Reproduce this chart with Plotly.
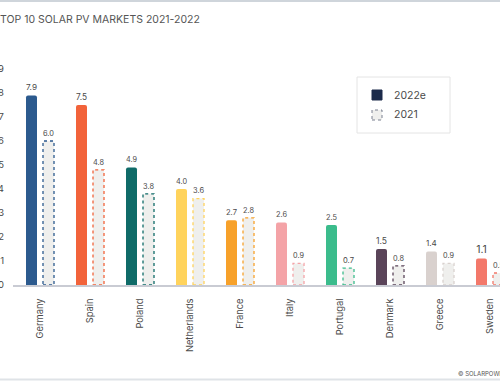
import plotly.graph_objects as go

categories = ["Germany", "Spain", "Poland", "Netherlands", "France", "Italy",
              "Portugal", "Denmark", "Greece", "Sweden"]
values_2022e = [7.9, 7.5, 4.9, 4.0, 2.7, 2.6, 2.5, 1.5, 1.4, 1.1]
values_2021 = [6.0, 4.8, 3.8, 3.6, 2.8, 0.9, 0.7, 0.8, 0.9, 0.5]
colors = ["#2c5a8e", "#f2633a", "#0f6b68", "#ffd35c", "#f7a12a", "#f4a3a7",
          "#3bbc8c", "#5a4459", "#d9d1ce", "#f3786a"]
y_ticks = list(range(0, 10))

FONT = "Inter"
TXT = "#4a4a4a"
FILL21 = "#efefed"

W_FIG, H_FIG = 500, 383
L, R, T, B = 13, 0, 69, 98
PW = W_FIG - L - R
PH = H_FIG - T - B


def px(q):
    return (q - L) / PW


def py(p):
    return (H_FIG - B - p) / PH


BW = 0.22
OFF1 = -0.28
OFF2 = 0.06

fig = go.Figure()
fig.add_trace(go.Bar(
    x=categories, y=values_2022e, name="2022e",
    marker=dict(color=colors, line=dict(width=0), cornerradius=2),
    offset=OFF1, width=BW,
    text=[f"{v:.1f}" for v in values_2022e], textposition="outside",
    textfont=dict(family=FONT, size=10.5, color=TXT), cliponaxis=False,
    showlegend=False,
))
fig.add_trace(go.Bar(
    x=categories, y=values_2021, name="2021",
    marker=dict(color=FILL21, line=dict(width=0), cornerradius=2),
    offset=OFF2, width=BW,
    text=[f"{v:.1f}" for v in values_2021], textposition="outside",
    textfont=dict(family=FONT, size=10.5, color=TXT), cliponaxis=False,
    showlegend=False,
))

shapes = []
for i, (v, c) in enumerate(zip(values_2021, colors)):
    shapes.append(dict(type="rect", xref="x", yref="y",
                       x0=i + OFF2, x1=i + OFF2 + BW, y0=0, y1=v,
                       line=dict(color=c, width=1.3, dash="dot"),
                       fillcolor="rgba(0,0,0,0)", layer="above"))

# frame lines
shapes.append(dict(type="line", xref="paper", yref="paper",
                   x0=px(0), x1=px(500), y0=py(1), y1=py(1),
                   line=dict(color="#cfd5db", width=2)))
shapes.append(dict(type="line", xref="paper", yref="paper",
                   x0=px(0), x1=px(500), y0=py(379.5), y1=py(379.5),
                   line=dict(color="#dfe3e7", width=2)))
# legend box
shapes.append(dict(type="rect", xref="paper", yref="paper",
                   x0=px(357), x1=px(450), y0=py(133), y1=py(77),
                   line=dict(color="#e4e4e4", width=1), fillcolor="white"))
shapes.append(dict(type="rect", xref="paper", yref="paper",
                   x0=px(372), x1=px(382), y0=py(100), y1=py(90),
                   line=dict(color="#1c2b4b", width=1), fillcolor="#1c2b4b"))
shapes.append(dict(type="rect", xref="paper", yref="paper",
                   x0=px(372), x1=px(382), y0=py(120), y1=py(110),
                   line=dict(color="#7a8090", width=1, dash="dot"), fillcolor=FILL21))

annotations = [
    dict(xref="paper", yref="paper", x=px(392), y=py(95), xanchor="left", yanchor="middle",
         text="2022e", showarrow=False, font=dict(family=FONT, size=10.5, color=TXT)),
    dict(xref="paper", yref="paper", x=px(392), y=py(115), xanchor="left", yanchor="middle",
         text="2021", showarrow=False, font=dict(family=FONT, size=10.5, color=TXT)),
    dict(xref="paper", yref="paper", x=px(456), y=py(373), xanchor="left", yanchor="middle",
         text="© SOLARPOWER EUROPE", showarrow=False,
         font=dict(family=FONT, size=6, color="#555555")),
]

fig.update_layout(
    width=W_FIG, height=H_FIG,
    margin=dict(l=L, r=R, t=T, b=B, autoexpand=False),
    paper_bgcolor="white", plot_bgcolor="white",
    barmode="overlay",
    title=dict(text="TOP 10 SOLAR PV MARKETS 2021-2022", x=0, xref="container",
               xanchor="left", y=1 - 19 / H_FIG, yref="container", yanchor="middle",
               font=dict(family=FONT, size=10.5, color="#555555")),
    xaxis=dict(range=[-0.54, 9.2], tickangle=-90, showgrid=False, zeroline=False,
               showline=True, linecolor="#c9cbd3", linewidth=1.5,
               ticks="", ticklabelstandoff=8, automargin=False,
               tickfont=dict(family=FONT, size=9.3, color=TXT), fixedrange=True),
    yaxis=dict(range=[0, 9], tickvals=y_ticks, showgrid=False, zeroline=False,
               showline=False, ticks="", ticklabelstandoff=8, automargin=False,
               tickfont=dict(family=FONT, size=9.5, color=TXT), fixedrange=True),
    shapes=shapes, annotations=annotations,
    font=dict(family=FONT, color=TXT),
    showlegend=False,
)

fig.write_html("out.html", config={"displayModeBar": False},
               post_script="document.body.style.margin='0';document.body.style.overflow='hidden';")
